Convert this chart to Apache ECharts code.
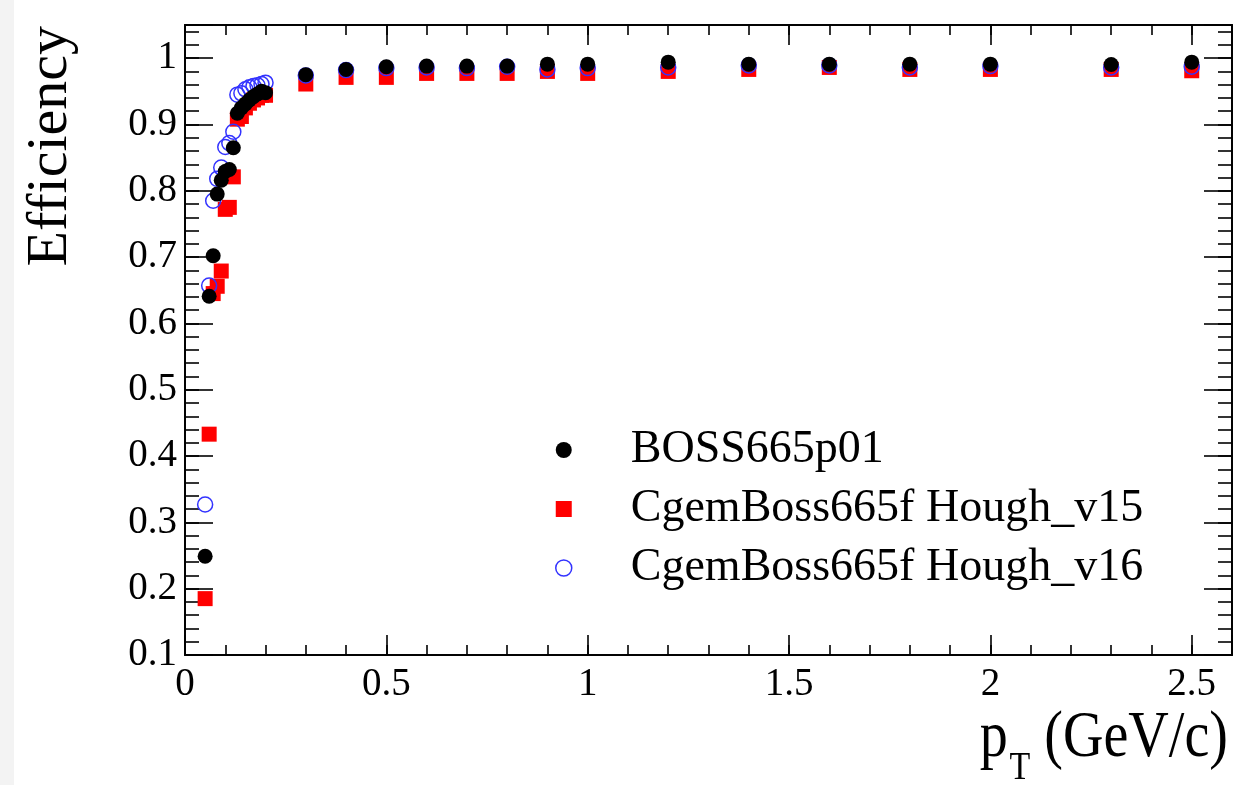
<!DOCTYPE html>
<html>
<head>
<meta charset="utf-8">
<title>Efficiency vs pT</title>
<script src="https://cdn.jsdelivr.net/npm/echarts@6/dist/echarts.min.js"></script>
<style>
  html, body { margin: 0; padding: 0; background: #fff; }
  #chart { width: 1236px; height: 785px; }
</style>
</head>
<body>
<div id="chart"></div>
<script>
// Transverse momentum bins (GeV/c)
const pt = [0.05, 0.06, 0.07, 0.08, 0.09, 0.10, 0.11, 0.12, 0.13, 0.14, 0.15, 0.16, 0.17, 0.18, 0.19, 0.20,
            0.3, 0.4, 0.5, 0.6, 0.7, 0.8, 0.9, 1.0, 1.2, 1.4, 1.6, 1.8, 2.0, 2.3, 2.5];

// Tracking efficiency per bin
const effBoss = [0.249, 0.641, 0.702, 0.795, 0.816, 0.829, 0.832, 0.865, 0.917, 0.925, 0.931, 0.937, 0.942, 0.946, 0.950, 0.948,
                 0.975, 0.983, 0.987, 0.988, 0.988, 0.988, 0.991, 0.991, 0.994, 0.991, 0.991, 0.991, 0.991, 0.9905, 0.994];
const effV15  = [0.185, 0.433, 0.645, 0.656, 0.679, 0.772, 0.775, 0.821, 0.908, 0.912, 0.925, 0.932, 0.937, 0.940, 0.944, 0.944,
                 0.961, 0.971, 0.971, 0.977, 0.977, 0.977, 0.980, 0.977, 0.980, 0.983, 0.986, 0.983, 0.983, 0.983, 0.981];
const effV16  = [0.327, 0.657, 0.785, 0.818, 0.835, 0.866, 0.872, 0.889, 0.945, 0.947, 0.953, 0.956, 0.958, 0.959, 0.961, 0.963,
                 0.974, 0.982, 0.985, 0.986, 0.985, 0.987, 0.983, 0.985, 0.986, 0.989, 0.989, 0.986, 0.988, 0.986, 0.987];

const seriesNames = ['BOSS665p01', 'CgemBoss665f Hough_v15', 'CgemBoss665f Hough_v16'];

const X_MIN = 0, X_MAX = 2.6, Y_MIN = 0.1, Y_MAX = 1.05;
const FONT = '"Liberation Serif", "Times New Roman", serif';
const INK = '#000';

const pairs = ys => pt.map((x, i) => [x, ys[i]]);

// ROOT-style frame: ticks drawn inward on all four sides, major + minor
function xAx(pos, interval, len, labels) {
  return {
    type: 'value', min: X_MIN, max: X_MAX, interval: interval, position: pos,
    axisLine: { show: true, onZero: false, lineStyle: { color: INK, width: 1.6 } },
    axisTick: { show: true, inside: true, length: len, lineStyle: { color: INK, width: 1.6 } },
    axisLabel: labels ? {
      show: true, color: INK, fontFamily: FONT, fontSize: 39, margin: 10,
      formatter: v => (v > 2.55 ? '' : String(+v.toFixed(2)))
    } : { show: false },
    splitLine: { show: false }
  };
}
function yAx(pos, interval, len, labels) {
  return {
    type: 'value', min: Y_MIN, max: Y_MAX, interval: interval, position: pos,
    axisLine: { show: true, onZero: false, lineStyle: { color: INK, width: 1.6 } },
    axisTick: { show: true, inside: true, length: len, lineStyle: { color: INK, width: 1.6 } },
    axisLabel: labels ? {
      show: true, color: INK, fontFamily: FONT, fontSize: 39, margin: 8,
      formatter: v => (v > 1.01 ? '' : String(+v.toFixed(2)))
    } : { show: false },
    splitLine: { show: false }
  };
}

const chart = echarts.init(document.getElementById('chart'), null, { renderer: 'canvas' });

chart.setOption({
  backgroundColor: '#fff',
  animation: false,
  grid: { left: 185, right: 4, top: 25, bottom: 130, show: true, borderColor: INK, borderWidth: 1.6, backgroundColor: 'transparent' },
  xAxis: [
    xAx('bottom', 0.5, 20, true),
    xAx('bottom', 0.1, 10, false),
    xAx('top', 0.5, 20, false),
    xAx('top', 0.1, 10, false)
  ],
  yAxis: [
    yAx('left', 0.1, 28, true),
    yAx('left', 0.02, 14, false),
    yAx('right', 0.1, 28, false),
    yAx('right', 0.02, 14, false)
  ],
  legend: {
    orient: 'vertical', left: 555, top: 425, padding: 0, itemGap: 9,
    itemWidth: 16, itemHeight: 16,
    textStyle: { color: INK, fontFamily: FONT, fontSize: 46, lineHeight: 50, padding: [0, 0, 0, 54] },
    data: [
      { name: seriesNames[0], icon: 'circle', itemStyle: { color: '#000' } },
      { name: seriesNames[1], icon: 'rect', itemStyle: { color: '#ff0000' } },
      { name: seriesNames[2], icon: 'circle', itemStyle: { color: '#fff', borderColor: '#3333ff', borderWidth: 1.5 } }
    ]
  },
  graphic: [
    // light strip along the left page edge
    { type: 'rect', left: 0, top: 0, shape: { width: 14, height: 785 }, style: { fill: '#f3f3f3' }, z: -10 },
    {
      type: 'text', left: 22, top: 26, rotation: Math.PI / 2,
      style: { text: 'Efficiency', fill: INK, font: '58px ' + FONT }
    },
    {
      type: 'text', x: 1228, y: 772, scaleX: 0.85,
      style: {
        text: '{p|p}{t|T}{p| (GeV/c)}', fill: INK, align: 'right', verticalAlign: 'bottom',
        rich: {
          p: { fontFamily: FONT, fontSize: 66, verticalAlign: 'bottom', lineHeight: 72 },
          t: { fontFamily: FONT, fontSize: 40, verticalAlign: 'bottom', lineHeight: 72, padding: [0, 0, -16, 2] }
        }
      }
    }
  ],
  series: [
    {
      name: seriesNames[0], type: 'scatter', z: 4, xAxisIndex: 0, yAxisIndex: 0,
      symbol: 'circle', symbolSize: 15,
      itemStyle: { color: '#000', opacity: 1 },
      data: pairs(effBoss)
    },
    {
      name: seriesNames[1], type: 'scatter', z: 2, xAxisIndex: 0, yAxisIndex: 0,
      symbol: 'rect', symbolSize: 15,
      itemStyle: { color: '#ff0000', opacity: 1 },
      data: pairs(effV15)
    },
    {
      name: seriesNames[2], type: 'scatter', z: 3, xAxisIndex: 0, yAxisIndex: 0,
      symbol: 'circle', symbolSize: 15,
      itemStyle: { color: 'rgba(255,255,255,0)', borderColor: '#3333ff', borderWidth: 1.5, opacity: 1 },
      data: pairs(effV16)
    }
  ]
});
</script>
</body>
</html>
